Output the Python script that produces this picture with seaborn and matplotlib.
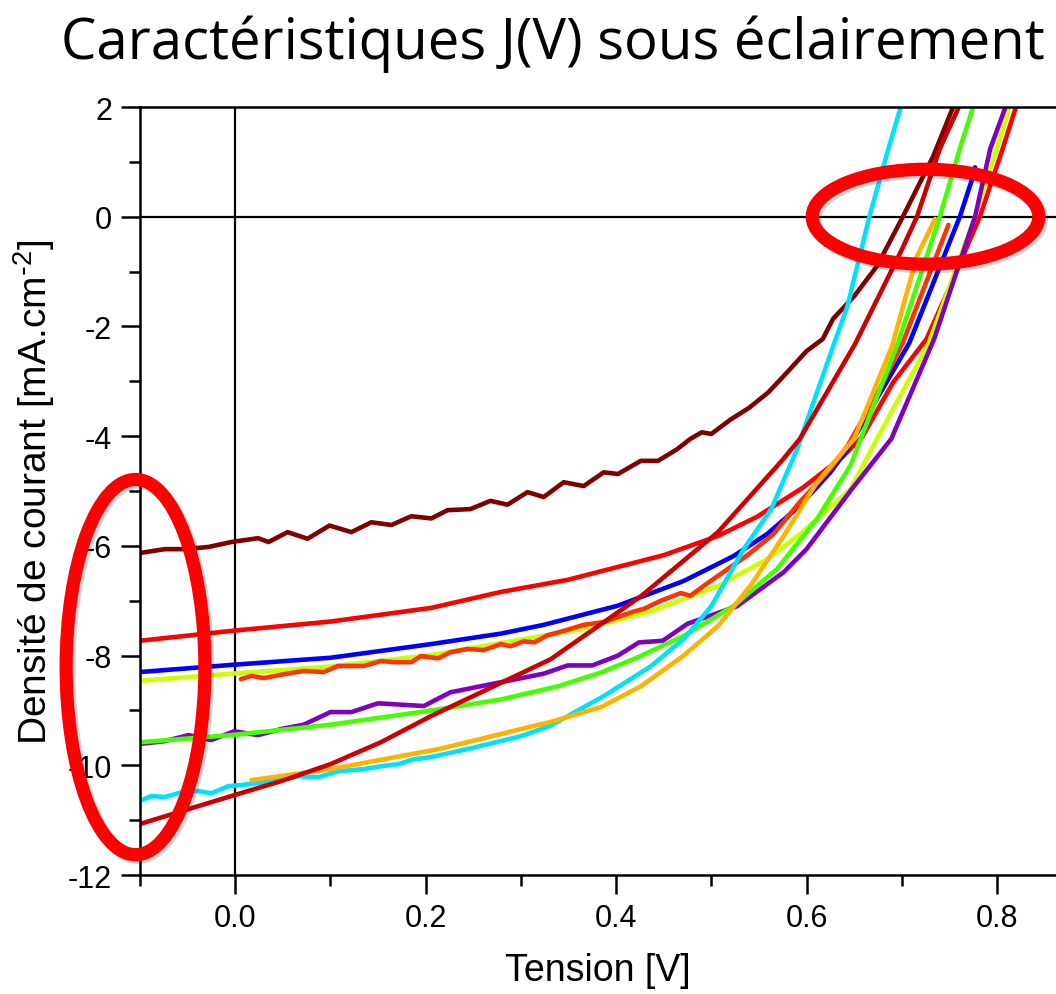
import numpy as np
import pandas as pd
import matplotlib
matplotlib.use("Agg")
import matplotlib.pyplot as plt
import matplotlib.patheffects as pe
from matplotlib.patches import Ellipse
import seaborn as sns

# courbes J(V) (tension en V, densite de courant en mA/cm2)
v_bordeaux = [-0.10, -0.074, -0.053, -0.028, -0.004, 0.024, 0.035, 0.055, 0.076, 0.099, 0.122, 0.143,
              0.164, 0.185, 0.206, 0.223, 0.247, 0.268, 0.286, 0.307, 0.324, 0.345, 0.366, 0.387,
              0.402, 0.426, 0.444, 0.464, 0.478, 0.49, 0.50, 0.52, 0.54, 0.56, 0.58, 0.60, 0.617,
              0.628, 0.65, 0.674, 0.70, 0.733, 0.754]
j_bordeaux = [-6.13, -6.06, -6.06, -6.02, -5.93, -5.86, -5.93, -5.75, -5.87, -5.63, -5.75, -5.57,
              -5.62, -5.46, -5.50, -5.35, -5.33, -5.18, -5.25, -5.02, -5.11, -4.84, -4.91, -4.66,
              -4.69, -4.45, -4.45, -4.24, -4.05, -3.93, -3.96, -3.70, -3.48, -3.20, -2.83, -2.45, -2.23,
              -1.86, -1.45, -0.90, -0.04, 1.10, 2.00]

v_rouge = [-0.10, -0.004, 0.10, 0.206, 0.279, 0.349, 0.45, 0.507, 0.548, 0.597, 0.639, 0.659,
           0.691, 0.726, 0.755, 0.782, 0.806, 0.820]
j_rouge = [-7.73, -7.55, -7.38, -7.13, -6.84, -6.62, -6.17, -5.82, -5.47, -4.93, -4.36, -4.00,
           -3.02, -2.23, -1.10, 0.00, 1.24, 2.00]

v_bleu = [-0.10, -0.004, 0.10, 0.206, 0.279, 0.324, 0.402, 0.471, 0.523, 0.559, 0.593, 0.625,
          0.643, 0.708, 0.761, 0.774, 0.777]
j_bleu = [-8.30, -8.17, -8.04, -7.79, -7.60, -7.44, -7.09, -6.64, -6.19, -5.78, -5.27, -4.66,
          -4.24, -2.30, 0.00, 0.69, 0.90]

v_jaune = [-0.10, -0.004, 0.10, 0.206, 0.363, 0.436, 0.507, 0.559, 0.593, 0.646, 0.674, 0.728,
           0.777, 0.800, 0.813]
j_jaune = [-8.46, -8.33, -8.20, -7.99, -7.52, -7.20, -6.73, -6.24, -5.79, -4.97, -4.05, -2.32,
           0.00, 1.24, 2.00]

v_orange_rouge = [0.006, 0.017, 0.03, 0.051, 0.072, 0.093, 0.108, 0.135, 0.153, 0.167, 0.185, 0.195,
                  0.213, 0.226, 0.244, 0.261, 0.279, 0.289, 0.303, 0.314, 0.328, 0.345, 0.366,
                  0.387, 0.418, 0.429, 0.447, 0.468, 0.478, 0.492, 0.51, 0.538, 0.565, 0.593,
                  0.625, 0.643, 0.677, 0.701, 0.749]
j_orange_rouge = [-8.43, -8.37, -8.41, -8.34, -8.28, -8.30, -8.19, -8.19, -8.10, -8.12, -8.12, -8.01,
                  -8.05, -7.94, -7.88, -7.90, -7.79, -7.83, -7.74, -7.76, -7.63, -7.55, -7.44,
                  -7.39, -7.20, -7.15, -7.00, -6.86, -6.91, -6.73, -6.51, -6.17, -5.79, -5.20,
                  -4.60, -4.18, -3.14, -2.30, -0.15]

v_violet = [-0.10, -0.074, -0.049, -0.025, -0.001, 0.024, 0.048, 0.072, 0.10, 0.122, 0.15, 0.198,
            0.226, 0.324, 0.349, 0.375, 0.402, 0.424, 0.449, 0.475, 0.527, 0.576, 0.60, 0.646,
            0.689, 0.734, 0.777, 0.793, 0.809]
j_violet = [-9.61, -9.56, -9.45, -9.54, -9.38, -9.45, -9.34, -9.26, -9.03, -9.03, -8.87, -8.92,
            -8.67, -8.33, -8.18, -8.18, -8.00, -7.76, -7.73, -7.42, -7.10, -6.48, -6.06, -5.00,
            -4.05, -2.23, 0.00, 1.24, 2.00]

v_vert = [-0.10, -0.004, 0.10, 0.206, 0.279, 0.339, 0.384, 0.423, 0.471, 0.523, 0.569, 0.611,
          0.646, 0.696, 0.740, 0.761, 0.775]
j_vert = [-9.58, -9.45, -9.26, -9.00, -8.80, -8.56, -8.31, -8.03, -7.64, -7.10, -6.42, -5.51,
          -4.54, -2.30, 0.00, 1.24, 2.00]

v_cyan = [-0.10, -0.088, -0.074, -0.056, -0.039, -0.025, -0.007, 0.006, 0.03, 0.048, 0.066, 0.087,
          0.108, 0.135, 0.156, 0.171, 0.188, 0.206, 0.25, 0.30, 0.331, 0.366, 0.387, 0.436,
          0.471, 0.50, 0.534, 0.563, 0.59, 0.627, 0.643, 0.666, 0.686, 0.699]
j_cyan = [-10.65, -10.56, -10.58, -10.49, -10.47, -10.51, -10.38, -10.36, -10.31, -10.27, -10.20, -10.22,
          -10.11, -10.07, -10.01, -9.98, -9.89, -9.85, -9.68, -9.47, -9.28, -8.94, -8.74, -8.20,
          -7.70, -7.10, -6.06, -5.33, -4.24, -2.41, -1.63, 0.00, 1.24, 2.00]

v_orange = [0.017, 0.10, 0.122, 0.215, 0.331, 0.384, 0.426, 0.471, 0.507, 0.541, 0.576, 0.611,
            0.650, 0.690, 0.716, 0.735]
j_orange = [-10.27, -10.07, -10.00, -9.70, -9.21, -8.94, -8.56, -8.00, -7.46, -6.73, -5.82, -4.84,
            -4.05, -2.35, -0.72, -0.04]

v_carmin = [-0.10, -0.004, 0.048, 0.10, 0.153, 0.206, 0.331, 0.426, 0.507, 0.574, 0.593, 0.651,
            0.699, 0.716, 0.740, 0.760]
j_carmin = [-11.07, -10.56, -10.29, -9.98, -9.58, -9.10, -8.07, -6.92, -5.75, -4.45, -4.05, -2.32,
            -0.64, 0.00, 1.24, 2.00]

courbes = {
    "bordeaux": (v_bordeaux, j_bordeaux, "#800000"),
    "rouge": (v_rouge, j_rouge, "#ff0000"),
    "bleu": (v_bleu, j_bleu, "#0000ff"),
    "jaune": (v_jaune, j_jaune, "#ccff00"),
    "orange_rouge": (v_orange_rouge, j_orange_rouge, "#ff3300"),
    "violet": (v_violet, j_violet, "#7f00bf"),
    "vert": (v_vert, j_vert, "#44ff00"),
    "cyan": (v_cyan, j_cyan, "#00e1ff"),
    "orange": (v_orange, j_orange, "#ffb300"),
    "carmin": (v_carmin, j_carmin, "#cc0000"),
}

df = pd.concat([pd.DataFrame({"V": v, "J": j, "courbe": nom}) for nom, (v, j, c) in courbes.items()],
               ignore_index=True)
palette = {nom: c for nom, (v, j, c) in courbes.items()}

sns.set_style("ticks")
plt.rcParams['font.family'] = ['Liberation Sans', 'DejaVu Sans']
plt.rcParams['mathtext.default'] = 'regular'
plt.rcParams['axes.unicode_minus'] = False

fig = plt.figure(figsize=(10.56, 9.95), dpi=100)
ax = fig.add_axes([140 / 1056, 119 / 995, 1 - 140 / 1056, 768 / 995])

sns.lineplot(data=df, x="V", y="J", hue="courbe", palette=palette, hue_order=list(courbes),
             estimator=None, sort=False, lw=3.3, legend=False, ax=ax)

ax.axhline(0, color="black", lw=1.6, zorder=1)
ax.axvline(0, color="black", lw=1.6, zorder=1)

ax.set_xlim(-0.1, 0.862)
ax.set_ylim(-12, 2)
ax.set_xticks([0.0, 0.2, 0.4, 0.6, 0.8])
ax.set_xticklabels(["0.0", "0.2", "0.4", "0.6", "0.8"])
ax.set_xticks([-0.1, 0.1, 0.3, 0.5, 0.7], minor=True)
ax.set_yticks(range(-12, 3, 2))
ax.set_yticks(range(-11, 2, 2), minor=True)
ax.tick_params(axis="both", which="major", direction="out", length=14, width=1.8, labelsize=22,
               pad=6, colors="black")
ax.tick_params(axis="both", which="minor", direction="out", length=8, width=1.8, colors="black")
for s in ["left", "bottom", "top"]:
    ax.spines[s].set_linewidth(1.8)
    ax.spines[s].set_color("black")
ax.spines["right"].set_visible(False)

ax.set_xlabel("Tension [V]", fontsize=27, labelpad=14, color="black")
ax.set_ylabel("Densité de courant [mA.cm$^{\\text{-}2}$]", fontsize=28, labelpad=8, color="black")

fig.text(0.524, 0.984, "Caractéristiques J(V) sous éclairement", ha="center", va="top",
         fontsize=40.5, color="black", family=["Open Sans", "DejaVu Sans"])

ombre = [pe.SimpleLineShadow(offset=(2, -2), alpha=0.15, shadow_color="black"), pe.Normal()]
for cx, cy, w, h in [(-0.1047, -8.21, 0.1457, 6.84), (0.725, 0.0, 0.238, 1.73)]:
    e = Ellipse((cx, cy), w, h, facecolor="none", edgecolor="#ff0000", lw=9.5, clip_on=False, zorder=5)
    e.set_path_effects(ombre)
    ax.add_patch(e)

fig.savefig("out.png", dpi=100)
